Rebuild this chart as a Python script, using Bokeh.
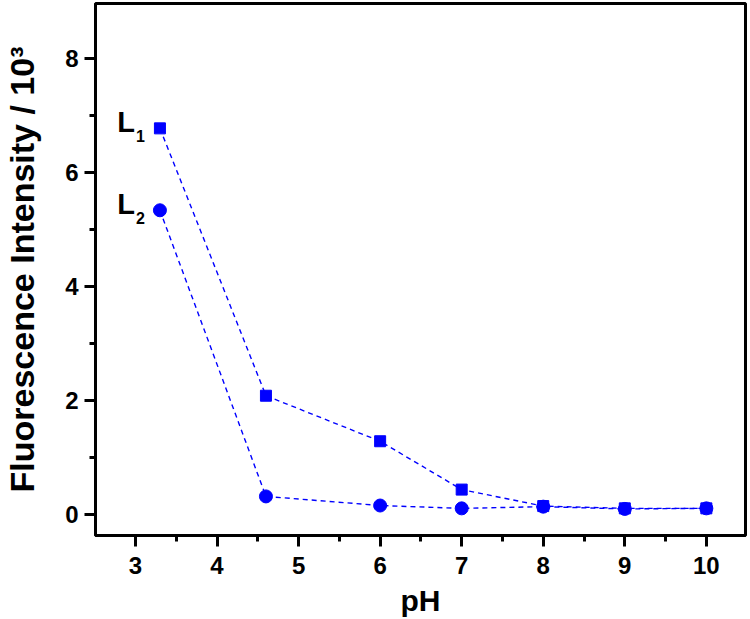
from bokeh.plotting import figure
from bokeh.models import Range1d, FixedTicker
from bokeh.core.properties import value
from bokeh.embed import file_html
from bokeh.resources import INLINE

ph = [3.3, 4.6, 6, 7, 8, 9, 10]
l1 = [6.78, 2.08, 1.28, 0.43, 0.14, 0.10, 0.10]
l2 = [5.34, 0.31, 0.15, 0.10, 0.13, 0.09, 0.10]
x_ticks = [3, 4, 5, 6, 7, 8, 9, 10]
y_ticks = [0, 2, 4, 6, 8]

BLUE = "#0000ff"
FONT = "Liberation Sans"

p = figure(width=750, height=619, output_backend="svg", toolbar_location=None,
           x_range=Range1d(2.51, 10.48), y_range=Range1d(-0.377, 8.975),
           min_border_left=95, min_border_right=5, min_border_top=3,
           min_border_bottom=82)

p.grid.visible = False
p.outline_line_color = "black"
p.outline_line_width = 3
p.background_fill_color = "white"
p.border_fill_color = "white"

for ax in (p.xaxis[0], p.yaxis[0]):
    ax.axis_line_width = 3
    ax.axis_line_color = "black"
    ax.major_tick_line_width = 3
    ax.minor_tick_line_width = 3
    ax.major_tick_out = 11
    ax.major_tick_in = 0
    ax.minor_tick_out = 6
    ax.minor_tick_in = 0
    ax.major_label_text_font = FONT
    ax.major_label_text_font_style = "bold"
    ax.major_label_text_font_size = "24px"
    ax.major_label_text_color = "black"
    ax.axis_label_text_font = FONT
    ax.axis_label_text_font_style = "bold"
    ax.axis_label_text_color = "black"

p.xaxis.axis_label_text_font_size = "30px"
p.yaxis.axis_label_text_font_size = "34px"
p.xaxis.ticker = FixedTicker(ticks=x_ticks,
                             minor_ticks=[t + 0.5 for t in range(2, 11)])
p.yaxis.ticker = FixedTicker(ticks=y_ticks, minor_ticks=[1, 3, 5, 7])
p.xaxis.axis_label = "pH"
p.yaxis.axis_label = "Fluorescence Intensity / 10³"
p.xaxis.major_label_standoff = 10
p.xaxis.axis_label_standoff = 7
p.yaxis.major_label_standoff = 6
p.yaxis.axis_label_standoff = 21

p.line(ph, l1, line_color=BLUE, line_width=1.4, line_dash="5 4")
p.line(ph, l2, line_color=BLUE, line_width=1.4, line_dash="5 4")
p.scatter(ph, l1, marker="square", size=11, fill_color=BLUE, line_color=BLUE)
p.scatter(ph, l2, marker="circle", size=13, fill_color=BLUE, line_color=BLUE)

# series labels next to first points
for ys, sub in ((l1, "1"), (l2, "2")):
    p.text(x=[ph[0]], y=[ys[0]], text=["L"], text_align="right",
           text_baseline="alphabetic", x_offset=-25, y_offset=-6,
           text_font=value(FONT), text_font_style="bold",
           text_font_size="29px", text_color="black")
    p.text(x=[ph[0]], y=[ys[0]], text=[sub], text_align="left",
           text_baseline="alphabetic", x_offset=-24, y_offset=8,
           text_font=value(FONT), text_font_style="bold",
           text_font_size="16px", text_color="black")

open("out.html", "w").write(file_html(p, INLINE))
